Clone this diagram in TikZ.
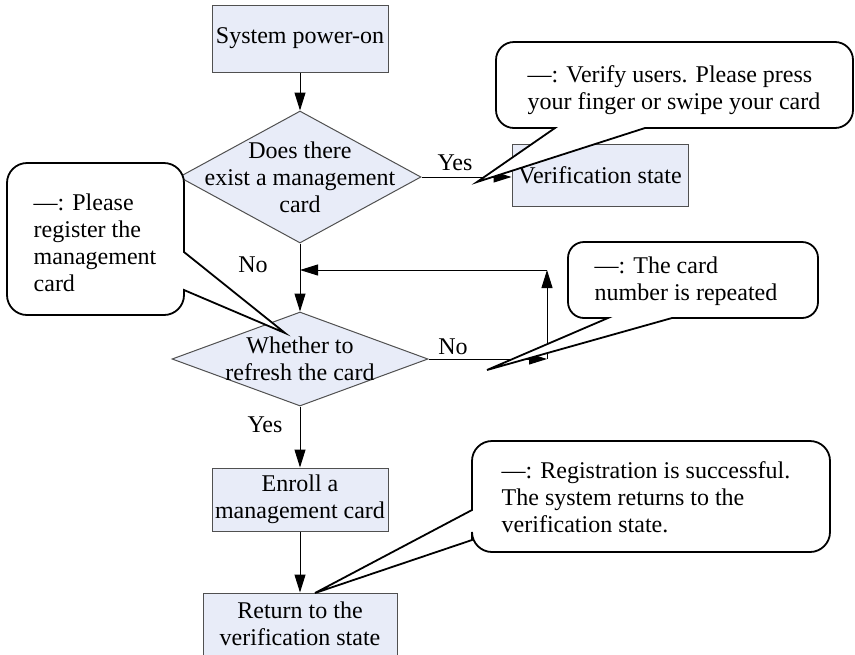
\documentclass[tikz,border=0pt]{standalone}
\usepackage{fontspec}
\setmainfont{Liberation Serif}
\usetikzlibrary{shapes.geometric,arrows.meta}
\definecolor{boxfill}{RGB}{232,236,248}
\definecolor{boxline}{RGB}{80,80,80}
\tikzset{
  stepbox/.style={draw=boxline, fill=boxfill, line width=0.5pt, minimum width=88pt, inner sep=0pt, align=center},
  decision/.style={diamond, draw=boxline, fill=boxfill, line width=0.5pt, inner sep=0pt},
  dtext/.style={align=center, inner sep=0pt},
  flow/.style={line width=0.5pt, -{Triangle[length=9pt,width=5.5pt]}},
  bubble/.style={draw, fill=white, line width=0.9pt},
  note/.style={align=left, inner sep=0pt},
}
\begin{document}
\begin{tikzpicture}[x=0.5pt, y=-0.5pt, font=\fontsize{12pt}{13.5pt}\selectfont]
\useasboundingbox (0,0) rectangle (855,654);
% boxes and decisions
\node[stepbox, minimum height=33.5pt] (power) at (300,38.5) {System power-on};
\node[decision, minimum width=121pt, minimum height=66pt,
      label={[dtext]center:Does there\\exist a management\\card}] (exist) at (300,177) {};
\node[stepbox, minimum height=31pt] (verif) at (600,175) {Verification state};
\node[decision, minimum width=128pt, minimum height=47pt,
      label={[dtext]center:Whether to\\refresh the card}] (refresh) at (300,359) {};
\node[stepbox, minimum height=31.5pt] (enroll) at (300,499.5) {Enroll a\\management card};
\node[stepbox, minimum width=97pt, minimum height=31pt] (ret) at (300,624) {Return to the\\verification state};
% loop corners
\coordinate (loopr) at (547,359);
\coordinate (loopt) at (547,270);
\coordinate (join) at (300,270);
% connectors
\draw[flow] (power) -- (exist);
\draw[flow] (exist.east) -- (exist.east -| verif.west);
\draw[flow] (exist) -- (refresh);
\draw[flow] (refresh.east) -- (loopr);
\draw[flow] (loopr) -- (loopt);
\draw[flow] (loopt) -- (join);
\draw[flow] (refresh) -- (enroll);
\draw[flow] (enroll) -- (ret);
\node (yes1) at (455,163) {Yes};
\node (no1) at (253,265) {No};
\node (no2) at (453,347) {No};
\node (yes2) at (265,425) {Yes};
% callouts
\draw[bubble] (645,128) [rounded corners=9pt] -- (853,128) -- (853,42) -- (496,42) -- (496,128)
  [sharp corners] -- (555,128) -- (477,182) -- cycle;
\draw[bubble] (184,252) [rounded corners=10pt] -- (184,163) -- (7,163) -- (7,315) -- (184,315)
  [sharp corners] -- (184,290) -- (285,333) -- cycle;
\draw[bubble] (672,318) [rounded corners=8pt] -- (818,318) -- (818,242) -- (568,242) -- (568,318)
  [sharp corners] -- (608,318) -- (487,370) -- cycle;
\draw[bubble] (472,510) [rounded corners=10pt] -- (472,441) -- (830,441) -- (830,552) -- (472,552)
  [sharp corners] -- (472,540) -- (315,593) -- cycle;
\node[note] (verifynote) at (674,90) {—: Verify users. Please press\\your finger or swipe your card};
\node[note] (regnote) at (95,243) {—: Please\\register the\\management\\card};
\node[note] (repnote) at (686,281) {—: The card\\number is repeated};
\node[note] (donenote) at (646,497) {—: Registration is successful.\\The system returns to the\\verification state.};
\end{tikzpicture}
\end{document}
